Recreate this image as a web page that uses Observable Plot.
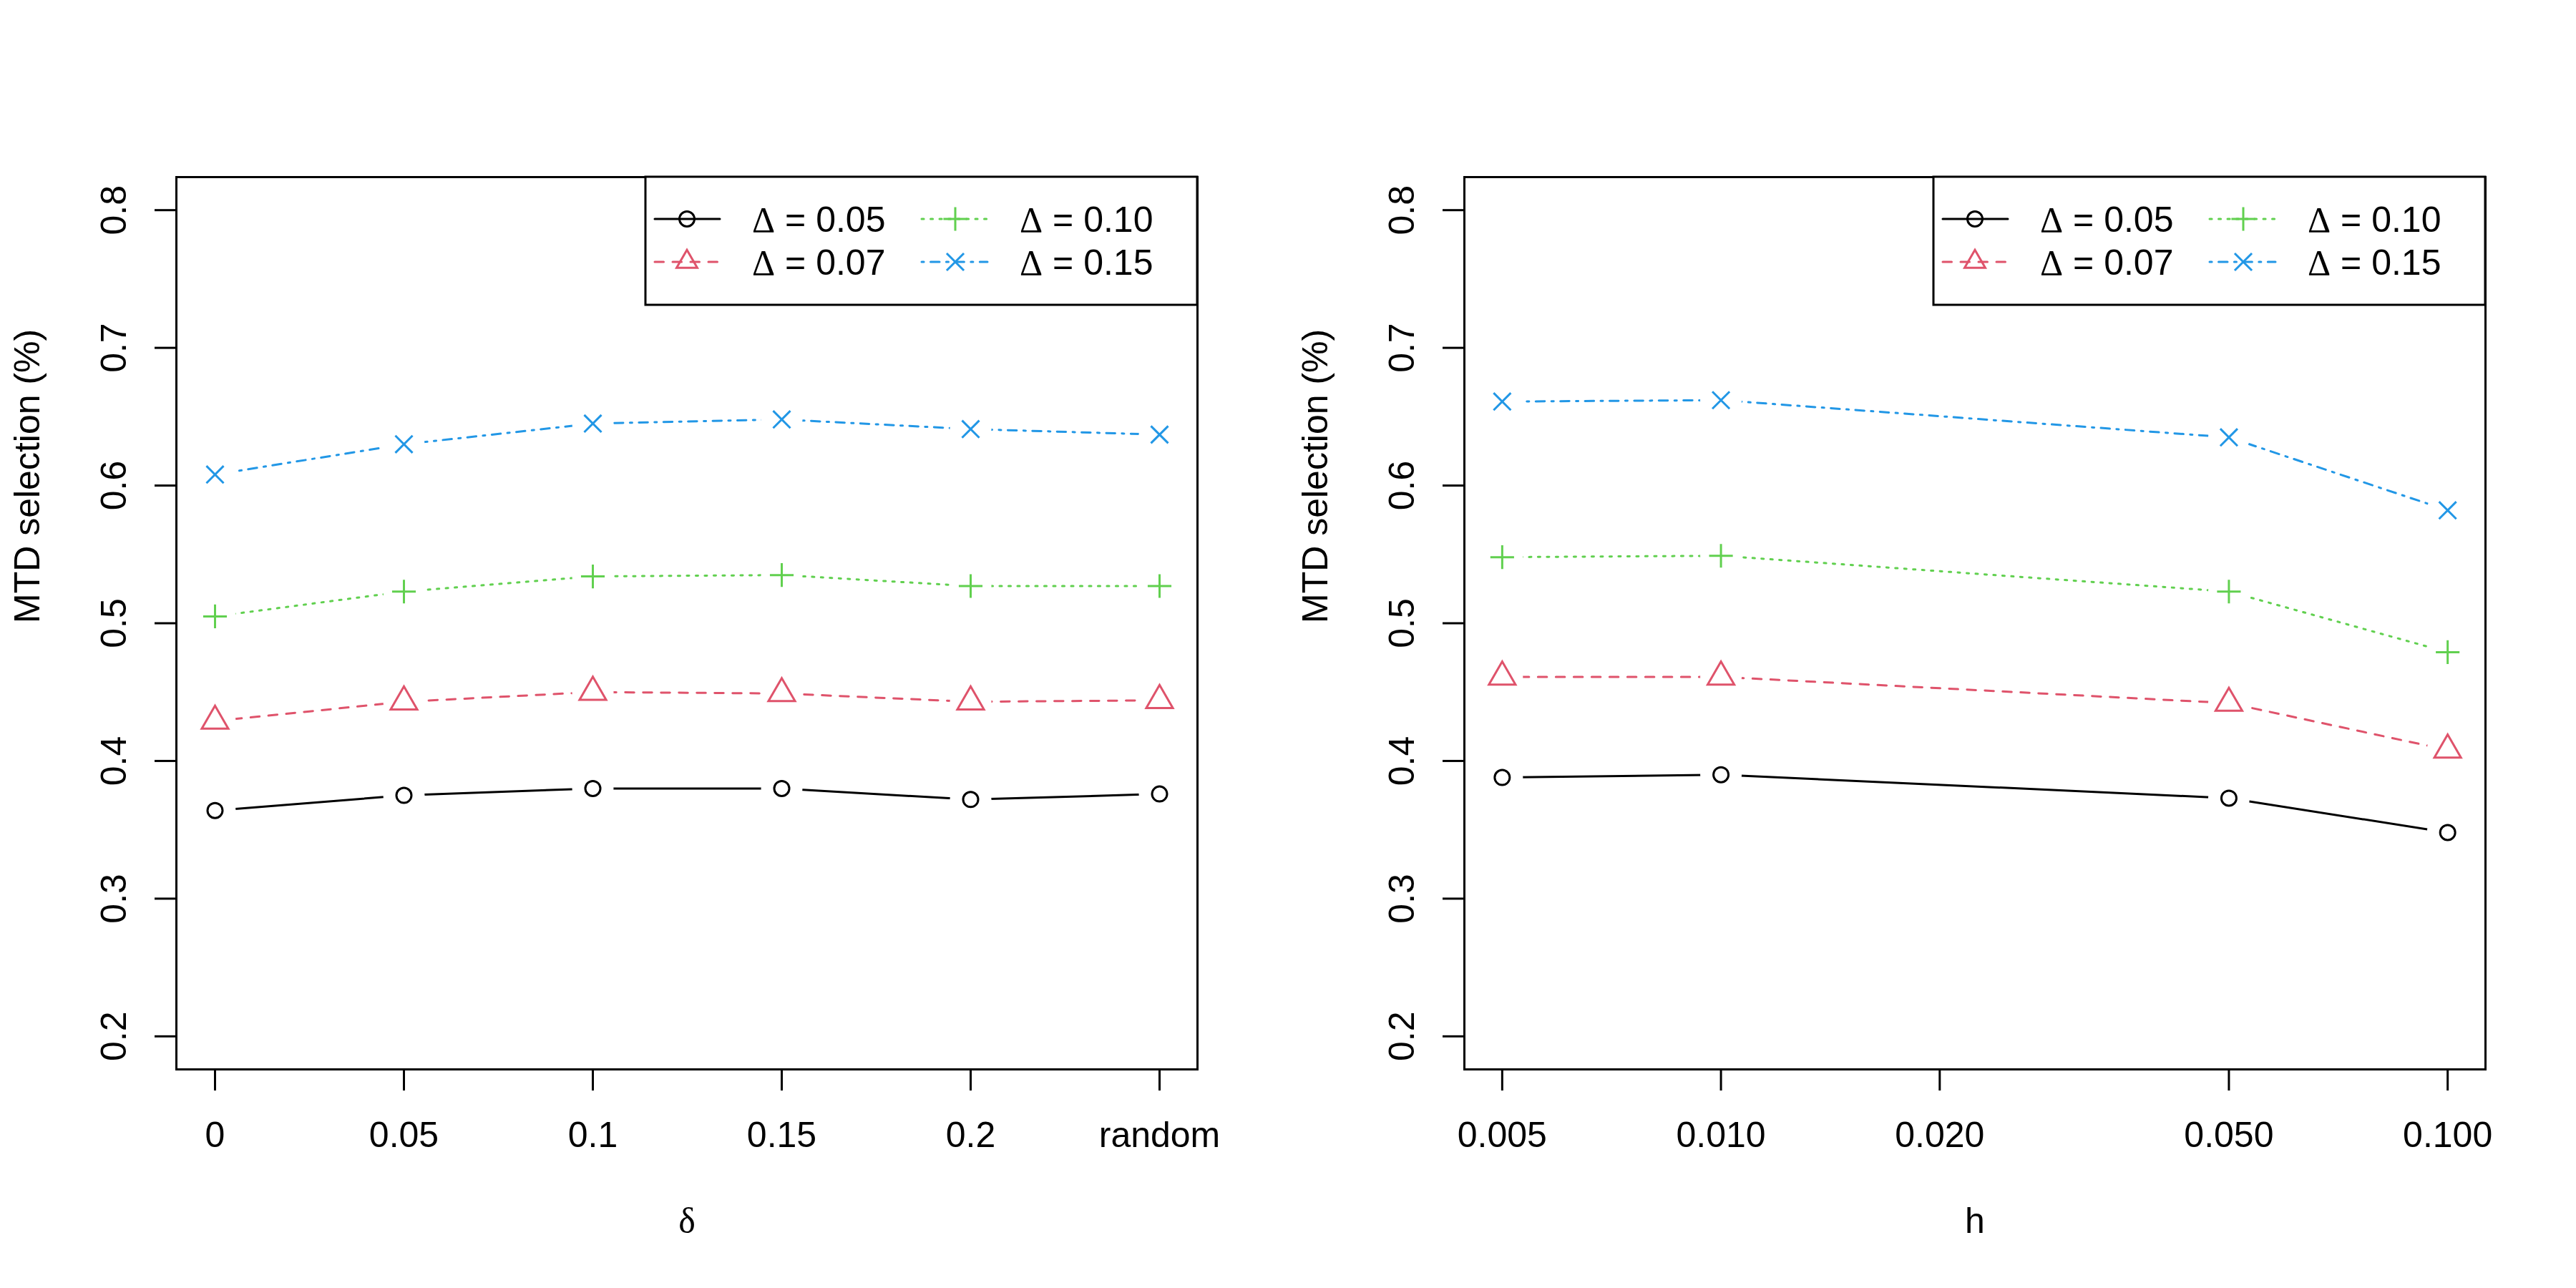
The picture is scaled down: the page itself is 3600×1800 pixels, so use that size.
<!DOCTYPE html>
<html><head><meta charset="utf-8">
<script src="https://cdn.jsdelivr.net/npm/d3@7"></script>
<script src="https://cdn.jsdelivr.net/npm/@observablehq/plot@0.6"></script>
<style>
html,body{margin:0;padding:0;background:#fff;}
#wrap{display:flex;width:3600px;height:1800px;}
#wrap svg{font-family:"Liberation Sans", Arial, sans-serif;display:block;}
</style></head><body><div id="wrap"></div>
<script>
// ---- data ----
const deltaLabels = ["0", "0.05", "0.1", "0.15", "0.2", "random"];
const hValues = [0.005, 0.01, 0.05, 0.1];
const hTicks = [0.005, 0.01, 0.02, 0.05, 0.1];
const yTicks = [0.2, 0.3, 0.4, 0.5, 0.6, 0.7, 0.8];
const seriesNames = ["0.05", "0.07", "0.10", "0.15"];
const seriesColors = ["#000000", "#DF536B", "#61D04F", "#2297E6"];
const seriesDash = [null, "12.5,12.5", "3.1,9.4", "3.1,9.4,12.5,9.4"];
const seriesSymbols = ["circle", "triangle", "plus", "times"];
const seriesR = [10.5, 13.8, 10.7, 11];

// left panel (by delta)
const left005 = [0.364, 0.375, 0.380, 0.380, 0.372, 0.376];
const left007 = [0.429, 0.443, 0.450, 0.449, 0.443, 0.444];
const left010 = [0.505, 0.523, 0.534, 0.535, 0.527, 0.527];
const left015 = [0.608, 0.630, 0.645, 0.648, 0.641, 0.637];
// right panel (by h)
const right005 = [0.388, 0.390, 0.373, 0.348];
const right007 = [0.461, 0.461, 0.442, 0.408];
const right010 = [0.548, 0.549, 0.523, 0.479];
const right015 = [0.661, 0.662, 0.635, 0.582];

const yTitle = "MTD selection (%)";

const symbolMap = {circle: d3.symbolCircle, triangle: d3.symbolTriangle2, plus: d3.symbolPlus, times: d3.symbolTimes};

function rExtend([a, b]) { const e = 0.04 * (b - a); return [a - e, b + e]; }

function panel({xs, seriesVals, xScale, axisXOpts, xTitle, xTitleFont}) {
  const W = 1800, H = 1800, mL = 246, mR = 127, mT = 247, mB = 306;
  const rows = [];
  seriesVals.forEach((vals, s) => vals.forEach((v, i) => rows.push({x: xs[i], y: v, s})));
  const marks = [Plot.frame({stroke: "black", strokeWidth: 3})];
  seriesVals.forEach((vals, s) => {
    const d = rows.filter(r => r.s === s);
    marks.push(Plot.line(d, {x: "x", y: "y", stroke: seriesColors[s], strokeWidth: 3, strokeDasharray: seriesDash[s]}));
  });
  marks.push(Plot.dot(rows, {x: "x", y: "y", r: 29, fill: "white", stroke: "none"}));
  seriesVals.forEach((vals, s) => {
    const d = rows.filter(r => r.s === s);
    marks.push(Plot.dot(d, {x: "x", y: "y", r: seriesR[s], symbol: seriesSymbols[s], fill: "none", stroke: seriesColors[s], strokeWidth: 3}));
  });
  marks.push(
    Plot.axisX({...axisXOpts, tickSize: 30, tickPadding: 43, strokeWidth: 3, fontSize: 50, label: null}),
    Plot.axisY({ticks: yTicks, tickFormat: d3.format(".1f"), tickRotate: -90, tickSize: 30, tickPadding: 41, strokeWidth: 3, fontSize: 50, label: null}),
    Plot.text([yTitle], {text: d => d, frameAnchor: "left", rotate: -90, lineAnchor: "bottom", dx: -192, fontSize: 50}),
    Plot.text([xTitle], {text: d => d, frameAnchor: "bottom", lineAnchor: "bottom", dy: 228, fontSize: 50, fontFamily: xTitleFont})
  );
  const svg = Plot.plot({
    width: W, height: H, marginLeft: mL, marginRight: mR, marginTop: mT, marginBottom: mB,
    style: {fontFamily: '"Liberation Sans", Arial, sans-serif', fontSize: "50px", background: "white", overflow: "visible"},
    x: {...xScale, axis: null, label: null},
    y: {domain: rExtend(d3.extent(yTicks)), axis: null, label: null},
    marks
  });
  // legend (top-right inside the box)
  const bx = 902, by = mT, bw = (W - mR) - bx, bh = 179;
  const g = d3.select(svg).append("g").attr("class", "legend").attr("text-anchor", "start");
  g.append("rect").attr("x", bx).attr("y", by).attr("width", bw).attr("height", bh)
    .attr("fill", "white").attr("stroke", "black").attr("stroke-width", 3);
  const cols = [{l1: 13, l2: 104, sym: 58, txt: 149}, {l1: 386, l2: 478, sym: 433, txt: 523}];
  const rowsY = [59, 119];
  seriesNames.forEach((name, s) => {
    const c = cols[Math.floor(s / 2)], ry = by + rowsY[s % 2];
    const ln = g.append("line").attr("x1", bx + c.l1).attr("x2", bx + c.l2).attr("y1", ry).attr("y2", ry)
      .attr("stroke", seriesColors[s]).attr("stroke-width", 3).attr("stroke-linecap", "round");
    if (seriesDash[s]) ln.attr("stroke-dasharray", seriesDash[s]);
    g.append("path").attr("transform", `translate(${bx + c.sym},${ry})`)
      .attr("d", d3.symbol(symbolMap[seriesSymbols[s]], Math.PI * seriesR[s] * seriesR[s])())
      .attr("fill", "none").attr("stroke", seriesColors[s]).attr("stroke-width", 3);
    const t = g.append("text").attr("x", bx + c.txt).attr("y", ry + 18)
      .attr("text-anchor", "start").style("text-anchor", "start")
      .attr("font-size", 50).style("font-size", "50px").attr("fill", "black");
    t.append("tspan").attr("font-family", '"Liberation Serif", "DejaVu Serif", serif').text("\u0394");
    t.append("tspan").text(" = " + name);
  });
  return svg;
}

const wrap = document.getElementById("wrap");
wrap.appendChild(panel({
  xs: deltaLabels,
  seriesVals: [left005, left007, left010, left015],
  xScale: {type: "point", domain: deltaLabels, padding: 0.2},
  axisXOpts: {},
  xTitle: "\u03B4",
  xTitleFont: '"Liberation Serif", "DejaVu Serif", serif'
}));
const lhExt = rExtend(d3.extent(hValues, v => Math.log10(v)));
wrap.appendChild(panel({
  xs: hValues,
  seriesVals: [right005, right007, right010, right015],
  xScale: {type: "log", domain: lhExt.map(v => Math.pow(10, v))},
  axisXOpts: {ticks: hTicks, tickFormat: d3.format(".3f")},
  xTitle: "h",
  xTitleFont: '"Liberation Sans", Arial, sans-serif'
}));
</script></body></html>
